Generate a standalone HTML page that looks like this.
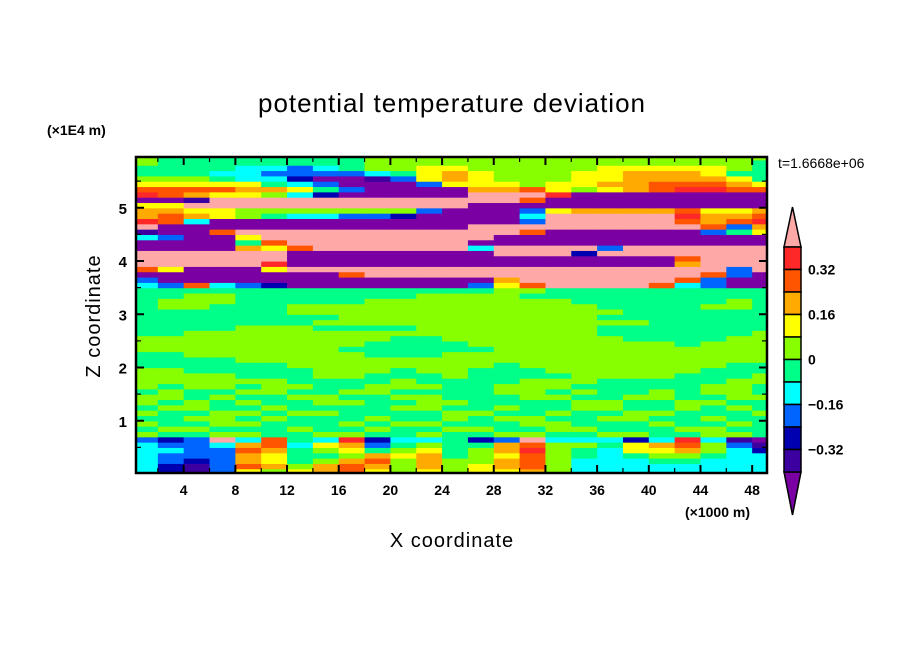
<!DOCTYPE html>
<html><head><meta charset="utf-8"><title>potential temperature deviation</title>
<style>
html,body{margin:0;padding:0;background:#fff;}
svg{display:block;}
text{font-family:"Liberation Sans",sans-serif;fill:#000;}
</style></head>
<body>
<svg id="chart" width="904" height="654" viewBox="0 0 904 654" xmlns="http://www.w3.org/2000/svg">
  <rect x="0" y="0" width="904" height="654" fill="#fff"/>
  <text x="452" y="112" font-size="26" text-anchor="middle" letter-spacing="1">potential temperature deviation</text>
  <text x="47" y="135" font-size="14" font-weight="bold">(×1E4 m)</text>
  <text x="778" y="168" font-size="14">t=1.6668e+06</text>
  <text x="685" y="517" font-size="14" font-weight="bold">(×1000 m)</text>
  <text x="452" y="547" font-size="20" text-anchor="middle" letter-spacing="1">X coordinate</text>
  <text x="0" y="0" font-size="20" text-anchor="middle" letter-spacing="1" transform="translate(100,316) rotate(-90)">Z coordinate</text>
  <defs><clipPath id="plotclip"><rect x="136" y="157" width="631" height="316"/></clipPath></defs>
  <g id="field" clip-path="url(#plotclip)"></g>
  <g id="axes"></g>
  <g id="cbar"></g>
</svg>
<script>
// ---- data ----
const xCellEdges0 = 0;          // km, first column start
const xCellWidth = 2;           // km per column
const zCellWidth = 0.1;         // 1E4 m per row
const xTicks = [4,8,12,16,20,24,28,32,36,40,44,48];
const xMinorTicks = [2,6,10,14,18,22,26,30,34,38,42,46];
const zTicks = [1,2,3,4,5];
const zMinorTicks = [0.5,1.5,2.5,3.5,4.5,5.5];
const levels = [-0.4,-0.32,-0.24,-0.16,-0.08,0,0.08,0.16,0.24,0.32,0.4];
const levelColors = ["#7a00a4","#3c00a0","#0000b0","#0064ff","#00ffff","#00ff88","#88ff00","#ffff00","#ffaa00","#ff5500","#ff2828","#ffa8a8"];
const cbarLabels = ["0.32","0.16","0","\u22120.16","\u22120.32"];
const cbarLabelValues = [0.32,0.16,0,-0.16,-0.32];
// level-index rows (0=lowest .. B=highest), from z=0 upward, 25 columns of 2 km
const fieldRows = [
"4213767897676778644444444",
"4213986898686789644444444",
"4323875689686689644455444",
"4333875568785679654566544",
"443398567567568A654778642",
"4334894783565589665789631",
"323B4954A244523B44424A410",
"6556655665565566556655665",
"5665556556556655665556655",
"6556655565665556655565565",
"5566565556556566556655655",
"6556656655556655655665556",
"5665565555665565566556565",
"6565655665566555566556655",
"6656556655665556655665566",
"5655665566555566565565665",
"6566566556665566655555665",
"6666665555655556665555566",
"6666555665556555566665556",
"6655555666566555666666555",
"5555556666666656666666655",
"5555666666666666666666666",
"5566666665556666666666666",
"6666666655555566666666666",
"6666666665555666666665666",
"6666666666556666666555566",
"5566666666666666665555556",
"5555666555566666665555555",
"5555555666666666666655555",
"5555555566666666665555555",
"5555556666666666666555555",
"5665556666666666665555665",
"5666555556666666655555565",
"5566555555566665555555555",
"5555555555555566555555555",
"4394320000000379BBBB94300",
"30000000000000 8BBBBBB9300".replace(" ",""),
"000000009BBBBBBBBBBBBB930",
"970007BBBBBBBBBBBBBBBBB3B",
"BBBBBA0000000000000008BBB",
"BBBBBB0000000000000009BBB",
"BBBBBB00000000BBB2BBBBBBB",
"0000879BBBBBB4BBBB3BBBBBB",
"000059BBBBBBB000000000000",
"43007BBBBBBBBB00000000000",
"1009BBBBBBBBBBB9000000357",
"B000000000000BBBBBBBBB938",
"A940000000000003BBBBB989A",
"898765443320000 4BBBBBA889".replace(" ",""),
"8877666666630003788889778",
"77BBBBBBBBBBB000000000000",
"001BBBBBBBBBBBB9000000000",
"A987764200000BBBA00000000",
"999988753000088976789AA99",
"7777754300037776778899987",
"6665442001378766677888875",
"5554433334578766677888755",
"5555443456677666667777765",
"6555555556666666666666665",
"6555555556666666666666666"
];
// ---- scales ----
function xs(v){ return 132 + 12.92*v; }
function zs(v){ return 474 - 53.25*v; }
function levelValue(ch){ return -0.44 + 0.08*parseInt(ch,16); }
function colorFor(val){
  let i=0; while(i<levels.length && val>=levels[i]) i++;
  return levelColors[i];
}
const NS="http://www.w3.org/2000/svg";
function mk(tag, attrs, parent){
  const e=document.createElementNS(NS,tag);
  for(const k in attrs) e.setAttribute(k,attrs[k]);
  parent.appendChild(e); return e;
}
// ---- field ----
const field=document.getElementById('field');
fieldRows.forEach((row,k)=>{
  for(let c=0;c<row.length;c++){
    const val=levelValue(row[c]);
    const x0=xs(xCellEdges0+c*xCellWidth), x1=xs(xCellEdges0+(c+1)*xCellWidth);
    const y0=zs((k+1)*zCellWidth), y1=zs(k*zCellWidth);
    const r=mk('rect',{x:x0.toFixed(2),y:y0.toFixed(2),width:(x1-x0+0.6).toFixed(2),height:(y1-y0+0.6).toFixed(2),fill:colorFor(val)},field);
    
    
  }
});
// ---- axes ----
const axes=document.getElementById('axes');
const frame=mk('rect',{x:136,y:157,width:631,height:316,fill:'none',stroke:'#000','stroke-width':2.5},axes);


xTicks.forEach(v=>{
  const x=xs(v);
  const t1=mk('line',{x1:x,x2:x,y1:473,y2:465,stroke:'#000','stroke-width':2},axes);
  
  
  const t2=mk('line',{x1:x,x2:x,y1:157,y2:165,stroke:'#000','stroke-width':2},axes);
  
  
  const l=mk('text',{x:x,y:495,'font-size':14,'font-weight':'bold','text-anchor':'middle'},axes);
  l.textContent=String(v);
  
  
});
xMinorTicks.forEach(v=>{
  const x=xs(v);
  const a=mk('line',{x1:x,x2:x,y1:473,y2:468,stroke:'#000','stroke-width':1.2},axes);
  
  
  const b=mk('line',{x1:x,x2:x,y1:157,y2:162,stroke:'#000','stroke-width':1.2},axes);
  
  
});
zTicks.forEach(v=>{
  const y=zs(v);
  const a=mk('line',{x1:136,x2:144,y1:y,y2:y,stroke:'#000','stroke-width':2},axes);
  
  
  const b=mk('line',{x1:767,x2:759,y1:y,y2:y,stroke:'#000','stroke-width':2},axes);
  
  
  const l=mk('text',{x:127,y:y+6,'font-size':15,'font-weight':'bold','text-anchor':'end'},axes);
  l.textContent=String(v);
  
  
});
zMinorTicks.forEach(v=>{
  const y=zs(v);
  const a=mk('line',{x1:136,x2:141,y1:y,y2:y,stroke:'#000','stroke-width':1.2},axes);
  
  
  const b=mk('line',{x1:767,x2:762,y1:y,y2:y,stroke:'#000','stroke-width':1.2},axes);
  
  
});
// ---- colorbar ----
const cb=document.getElementById('cbar');
const cbX=784, cbW=17, cbTop=247, cbBox=22.5;
function cbY(val){ return cbTop + (0.4-val)/0.08*cbBox; }
const topTri=mk('polygon',{points:`${cbX},${cbTop} ${cbX+cbW},${cbTop} ${cbX+cbW/2},207`,fill:levelColors[11],stroke:'#000','stroke-width':1.5},cb);


const botY=cbY(levels[0]);
const botTri=mk('polygon',{points:`${cbX},${botY} ${cbX+cbW},${botY} ${cbX+cbW/2},515`,fill:levelColors[0],stroke:'#000','stroke-width':1.5},cb);


for(let i=levels.length-1;i>0;i--){
  const y0=cbY(levels[i]), y1=cbY(levels[i-1]);
  const r=mk('rect',{x:cbX,y:y0,width:cbW,height:y1-y0,fill:levelColors[i],stroke:'#000','stroke-width':1.5},cb);
  
  
}
cbarLabels.forEach((s,i)=>{
  const l=mk('text',{x:808,y:cbY(cbarLabelValues[i])+5,'font-size':14,'font-weight':'bold'},cb);
  l.textContent=s;
  
  
});
</script>
</body></html>
